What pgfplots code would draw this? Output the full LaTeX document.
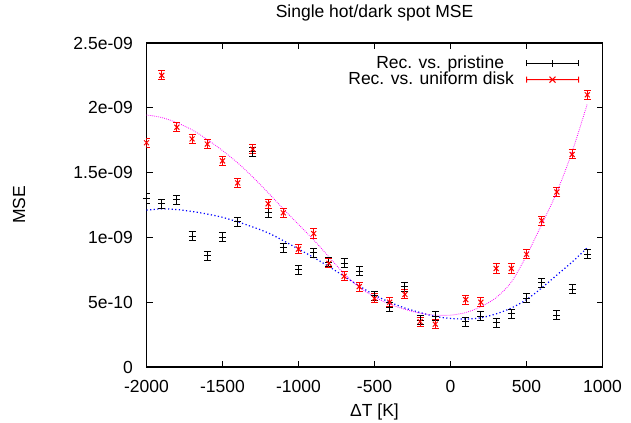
\documentclass[border=0pt]{standalone}
\usepackage{fontspec}
\setmainfont{Liberation Sans}
\usepackage{pgfplots}
\pgfplotsset{compat=1.18}
\definecolor{gpred}{RGB}{255,0,0}
\definecolor{gpmag}{RGB}{255,0,255}
\definecolor{gpblue}{RGB}{0,0,255}

\pgfplotstableread{
x y
-2000 1.30e-9
-1900 1.26e-9
-1800 1.29e-9
-1700 1.01e-9
-1600 0.86e-9
-1500 1.00e-9
-1400 1.12e-9
-1300 1.66e-9
-1200 1.19e-9
-1100 0.92e-9
-1000 0.75e-9
-900 0.88e-9
-800 0.81e-9
-700 0.80e-9
-600 0.74e-9
-500 0.55e-9
-400 0.46e-9
-300 0.62e-9
-200 0.36e-9
-100 0.39e-9
100 0.35e-9
200 0.39e-9
300 0.34e-9
400 0.41e-9
500 0.53e-9
600 0.65e-9
700 0.40e-9
800 0.60e-9
900 0.87e-9
}\pristine

\pgfplotstableread{
x y
-2000 1.73e-9
-1900 2.25e-9
-1800 1.85e-9
-1700 1.76e-9
-1600 1.72e-9
-1500 1.59e-9
-1400 1.42e-9
-1300 1.68e-9
-1200 1.26e-9
-1100 1.19e-9
-1000 0.91e-9
-900 1.03e-9
-800 0.80e-9
-700 0.70e-9
-600 0.62e-9
-500 0.53e-9
-400 0.50e-9
-300 0.56e-9
-200 0.35e-9
-100 0.33e-9
100 0.52e-9
200 0.50e-9
300 0.76e-9
400 0.76e-9
500 0.87e-9
600 1.13e-9
700 1.35e-9
800 1.64e-9
900 2.10e-9
}\uniform

\pgfplotstableread{
x y
-2000 1.21e-9
-1900 1.22e-9
-1800 1.215e-9
-1700 1.20e-9
-1600 1.18e-9
-1500 1.155e-9
-1400 1.12e-9
-1300 1.08e-9
-1200 1.035e-9
-1100 0.975e-9
-1000 0.91e-9
-900 0.845e-9
-800 0.775e-9
-700 0.70e-9
-600 0.625e-9
-500 0.555e-9
-400 0.50e-9
-300 0.455e-9
-200 0.42e-9
-100 0.39e-9
0 0.375e-9
100 0.37e-9
200 0.38e-9
300 0.41e-9
400 0.455e-9
500 0.52e-9
600 0.61e-9
700 0.71e-9
800 0.81e-9
900 0.92e-9
}\fitpristine

\pgfplotstableread{
x y
-2000 1.945e-9
-1900 1.925e-9
-1800 1.885e-9
-1700 1.83e-9
-1600 1.755e-9
-1500 1.67e-9
-1400 1.575e-9
-1300 1.465e-9
-1200 1.345e-9
-1100 1.22e-9
-1000 1.10e-9
-900 0.98e-9
-800 0.85e-9
-700 0.72e-9
-600 0.615e-9
-500 0.54e-9
-400 0.485e-9
-300 0.445e-9
-200 0.415e-9
-100 0.40e-9
0 0.40e-9
100 0.42e-9
200 0.465e-9
300 0.535e-9
400 0.655e-9
500 0.86e-9
600 1.10e-9
700 1.35e-9
800 1.66e-9
900 2.03e-9
}\fituniform

\begin{document}
\fontsize{17.5bp}{21bp}\selectfont
\begin{tikzpicture}
\begin{axis}[
  scale only axis,
  width=456bp, height=324bp,
  xmin=-2000, xmax=1000, ymin=0, ymax=2.5e-9,
  xtick={-2000,-1500,-1000,-500,0,500,1000},
  xticklabels={-2000,-1500,-1000,-500,0,500,1000},
  ytick={0,0.5e-9,1e-9,1.5e-9,2e-9,2.5e-9},
  yticklabels={0,5e-10,1e-09,1.5e-09,2e-09,2.5e-09},
  scaled y ticks=false, scaled x ticks=false,
  tick align=inside, major tick length=6bp,
  xtick pos=both, ytick pos=both,
  axis line style={line width=1.2bp, black},
  every tick/.style={line width=1bp, black},
  xticklabel style={anchor=north, inner sep=0pt, yshift=-13bp},
  yticklabel style={anchor=east, inner sep=0pt, xshift=-13.5bp},
  title={Single hot/dark spot MSE},
  title style={at={(axis description cs:0.5,1)}, anchor=base, yshift=20bp, inner sep=0pt},
  xlabel={ΔT [K]},
  xlabel style={at={(axis description cs:0.5,0)}, anchor=base, yshift=-49bp, inner sep=0pt},
  ylabel={MSE},
  ylabel style={at={(axis description cs:-0.2664,0.5)}, anchor=base, inner sep=0pt},
  legend style={draw=none, fill=none, at={(axis description cs:0.9485,0.912)}, anchor=east,
    inner sep=0pt, outer sep=0pt, row sep=1bp, column sep=12bp,
    nodes={inner sep=0pt}, legend plot pos=right, cells={anchor=east}},
  legend cell align=right,
]
\addplot[gpblue, smooth, line width=1.2bp, dash pattern=on 1.2bp off 2.4bp, forget plot] table[x=x,y=y] {\fitpristine};
\addplot[gpmag, smooth, line width=0.8bp, dash pattern=on 0.8bp off 1.2bp, forget plot] table[x=x,y=y] {\fituniform};
\addplot[black, only marks, mark=+, mark size=3.5bp, mark options={line width=1bp},
  legend image code/.code={
    \draw[black, line width=1bp] (0bp,0bp) -- (52bp,0bp)
      (0bp,-3bp) -- (0bp,3bp) (52bp,-3bp) -- (52bp,3bp) (26bp,-3.5bp) -- (26bp,3.5bp);},
  error bars/.cd, y dir=both, y fixed=3.5e-11,
  error bar style={line width=1bp, black},
  error mark=-,
  error mark options={rotate=90, black, mark size=3.5bp, line width=1bp}
] table[x=x,y=y] {\pristine};
\addlegendentry{Rec. vs. pristine\hspace*{10bp}}
\addplot[gpred, only marks, mark=x, mark size=3.5bp, mark options={line width=1bp},
  legend image code/.code={
    \draw[gpred, line width=1bp] (0bp,0bp) -- (52bp,0bp)
      (0bp,-3bp) -- (0bp,3bp) (52bp,-3bp) -- (52bp,3bp)
      (23bp,-3bp) -- (29bp,3bp) (23bp,3bp) -- (29bp,-3bp);},
  error bars/.cd, y dir=both, y fixed=3.5e-11,
  error bar style={line width=1bp, gpred},
  error mark=-,
  error mark options={rotate=90, gpred, mark size=3.5bp, line width=1bp}
] table[x=x,y=y] {\uniform};
\addlegendentry{Rec. vs. uniform disk}
\end{axis}
\pgfresetboundingbox
\path[use as bounding box] (-146.5bp,-56bp) rectangle (484.5bp,367bp);
\end{tikzpicture}
\end{document}
